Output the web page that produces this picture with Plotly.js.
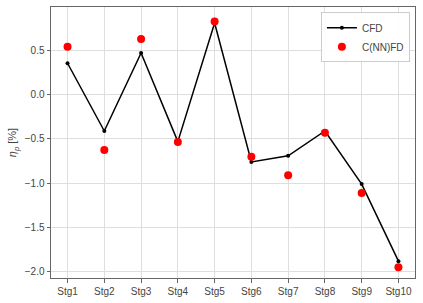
<!DOCTYPE html>
<html>
<head>
<meta charset="utf-8">
<script src="https://cdn.plot.ly/plotly-3.0.1.min.js"></script>
<style>html,body{margin:0;padding:0;background:#fff;}#chart{width:423px;height:303px;}</style>
</head>
<body>
<div id="chart"></div>
<script>
const stages = ["Stg1","Stg2","Stg3","Stg4","Stg5","Stg6","Stg7","Stg8","Stg9","Stg10"];
const cfdValues = [0.355, -0.41, 0.47, -0.53, 0.81, -0.76, -0.69, -0.41, -1.01, -1.88];
const cnnfdValues = [0.54, -0.625, 0.63, -0.535, 0.826, -0.70, -0.91, -0.43, -1.11, -1.95];
const yTicks = [0.5, 0.0, -0.5, -1.0, -1.5, -2.0];
const yTickLabels = ["0.5", "0.0", "\u22120.5", "\u22121.0", "\u22121.5", "\u22122.0"];

const traces = [
  {x: stages.map((s,i)=>i), y: cfdValues, name: "CFD", type: "scatter", mode: "lines+markers",
   line: {color: "#000", width: 1.5}, marker: {color: "#000", size: 4}},
  {x: stages.map((s,i)=>i), y: cnnfdValues, name: "C(NN)FD", type: "scatter", mode: "markers",
   marker: {color: "#ff0000", size: 8}}
];
const layout = {
  width: 423, height: 303,
  margin: {l: 51, r: 8, t: 7, b: 25},
  paper_bgcolor: "#fff", plot_bgcolor: "#fff",
  font: {family: "Liberation Sans, Arial, sans-serif", size: 10, color: "#444"},
  showlegend: true,
  legend: {x: 0.986, y: 0.981, xanchor: "right", yanchor: "top", bgcolor: "rgba(255,255,255,0.9)",
           bordercolor: "#ccc", borderwidth: 1, font: {size: 10, color: "#444"}, tracegroupgap: 0,
           itemwidth: 30},
  xaxis: {range: [-0.45, 9.45], tickmode: "array", tickvals: stages.map((s,i)=>i), ticktext: stages,
          showgrid: true, gridcolor: "#dedede", gridwidth: 1, zeroline: false,
          showline: true, linecolor: "#666", linewidth: 1, mirror: true,
          ticks: "outside", ticklen: 3.5, tickcolor: "#666", tickfont: {size: 10, color: "#444"}},
  yaxis: {range: [-2.07, 0.99], tickmode: "array", tickvals: yTicks, ticktext: yTickLabels,
          showgrid: true, gridcolor: "#dedede", gridwidth: 1, zeroline: false,
          showline: true, linecolor: "#666", linewidth: 1, mirror: true,
          ticks: "outside", ticklen: 3.5, tickcolor: "#666", tickfont: {size: 10, color: "#444"},
          title: {text: "<i>η</i><sub><i>p</i></sub> [%]", font: {size: 11, color: "#444"}, standoff: 5}}
};
Plotly.newPlot("chart", traces, layout, {displayModeBar: false, staticPlot: true});
</script>
</body>
</html>
